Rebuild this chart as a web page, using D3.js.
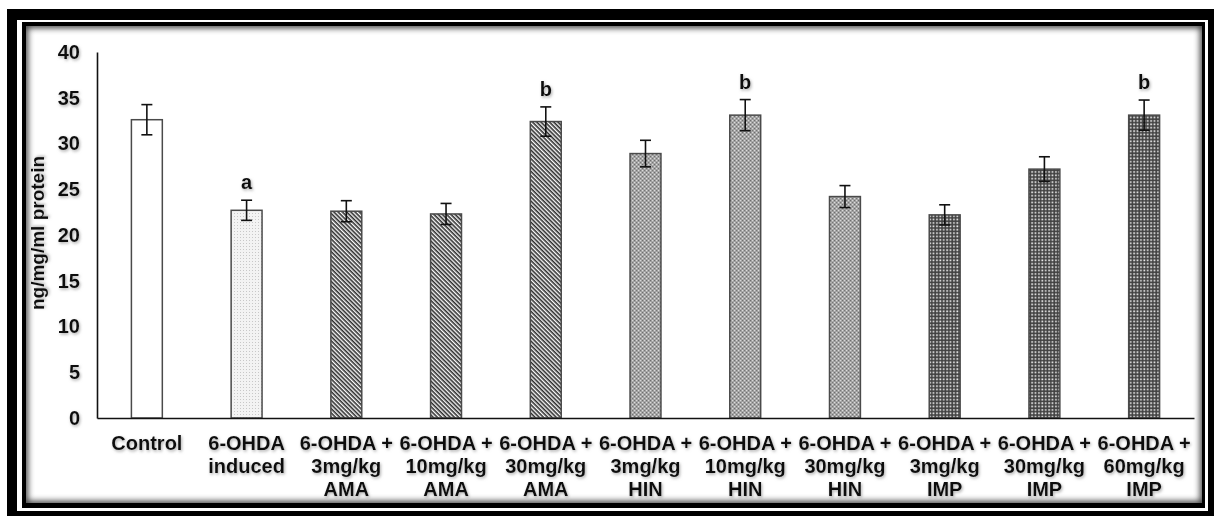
<!DOCTYPE html>
<html>
<head>
<meta charset="utf-8">
<script src="https://cdn.jsdelivr.net/npm/d3@7"></script>
<style>
body { margin: 0; background: #fff; }
text { font-family: "Liberation Sans", Arial, sans-serif; font-weight: bold; fill: #111; }
</style>
</head>
<body>
<div id="chart"></div>
<script>
// chart data
var labels = [
  ["Control"],
  ["6-OHDA", "induced"],
  ["6-OHDA +", "3mg/kg", "AMA"],
  ["6-OHDA +", "10mg/kg", "AMA"],
  ["6-OHDA +", "30mg/kg", "AMA"],
  ["6-OHDA +", "3mg/kg", "HIN"],
  ["6-OHDA +", "10mg/kg", "HIN"],
  ["6-OHDA +", "30mg/kg", "HIN"],
  ["6-OHDA +", "3mg/kg", "IMP"],
  ["6-OHDA +", "30mg/kg", "IMP"],
  ["6-OHDA +", "60mg/kg", "IMP"]
];
var values = [32.6, 22.7, 22.6, 22.3, 32.4, 28.9, 33.1, 24.2, 22.2, 27.2, 33.1];
var errors = [1.65, 1.1, 1.15, 1.15, 1.6, 1.45, 1.7, 1.2, 1.1, 1.35, 1.65];
var letters = ["", "a", "", "", "b", "", "b", "", "", "", "b"];
var fills = ["white", "dots", "stripes", "stripes", "stripes", "hin", "hin", "hin", "imp", "imp", "imp"];
var yTicks = [0, 5, 10, 15, 20, 25, 30, 35, 40];

var width = 1214, height = 516;
var svg = d3.select("#chart").append("svg")
  .attr("width", width)
  .attr("height", height);

var defs = svg.append("defs");

// patterns for the bars
var p = defs.append("pattern").attr("id", "dots")
  .attr("patternUnits", "userSpaceOnUse").attr("width", 3).attr("height", 3);
p.append("rect").attr("width", 3).attr("height", 3).attr("fill", "#f3f3f3");
p.append("rect").attr("width", 1).attr("height", 1).attr("fill", "#c8c8c8");

p = defs.append("pattern").attr("id", "stripes")
  .attr("patternUnits", "userSpaceOnUse").attr("width", 3).attr("height", 3)
  .attr("patternTransform", "rotate(45)");
p.append("rect").attr("width", 3).attr("height", 3).attr("fill", "#fafafa");
p.append("rect").attr("width", 3).attr("height", 1.6).attr("fill", "#2e2e2e");

p = defs.append("pattern").attr("id", "hin")
  .attr("patternUnits", "userSpaceOnUse").attr("width", 4).attr("height", 4);
p.append("rect").attr("width", 4).attr("height", 4).attr("fill", "#a0a0a0");
p.append("rect").attr("x", 0).attr("y", 0).attr("width", 1.2).attr("height", 1.2).attr("fill", "#d8d8d8");
p.append("rect").attr("x", 2).attr("y", 2).attr("width", 1.2).attr("height", 1.2).attr("fill", "#dcdcdc");
p.append("rect").attr("x", 2).attr("y", 0).attr("width", 1).attr("height", 1).attr("fill", "#6e6e6e");
p.append("rect").attr("x", 0).attr("y", 2).attr("width", 1).attr("height", 1).attr("fill", "#767676");

p = defs.append("pattern").attr("id", "imp")
  .attr("patternUnits", "userSpaceOnUse").attr("width", 3.4).attr("height", 3.4);
p.append("rect").attr("width", 3.4).attr("height", 3.4).attr("fill", "#404040");
p.append("rect").attr("x", 1.1).attr("y", 1.1).attr("width", 1.7).attr("height", 1.7).attr("fill", "#ececec");

// soft shadow on text
var f = defs.append("filter").attr("id", "tshadow")
  .attr("x", "-20%").attr("y", "-20%").attr("width", "140%").attr("height", "140%");
f.append("feDropShadow").attr("dx", 1).attr("dy", 1.5)
  .attr("stdDeviation", 1.4).attr("flood-color", "#888").attr("flood-opacity", 0.7);

// inner shadow on the frame
var fb = defs.append("filter").attr("id", "blur");
fb.append("feGaussianBlur").attr("stdDeviation", 3);
defs.append("clipPath").attr("id", "innerClip")
  .append("rect").attr("x", 26).attr("y", 26).attr("width", 1176).attr("height", 477);

// frame
svg.append("rect").attr("x", 7).attr("y", 9).attr("width", 1210).attr("height", 510).attr("fill", "#000");
svg.append("rect").attr("x", 17).attr("y", 20).attr("width", 1191).attr("height", 491).attr("fill", "#fff");
svg.append("rect").attr("x", 22).attr("y", 22).attr("width", 1183).attr("height", 486).attr("fill", "#000");
svg.append("rect").attr("x", 26).attr("y", 26).attr("width", 1176).attr("height", 477).attr("fill", "#fff");
svg.append("g").attr("clip-path", "url(#innerClip)")
  .append("rect").attr("x", 24).attr("y", 24).attr("width", 1180).attr("height", 481)
  .attr("fill", "none").attr("stroke", "#000").attr("stroke-width", 8)
  .attr("opacity", 0.75).attr("filter", "url(#blur)");

// scales
var x = d3.scaleBand()
  .domain(d3.range(values.length))
  .range([97, 1194])
  .paddingInner(0.69)
  .paddingOuter(0.345);

var y = d3.scaleLinear()
  .domain([0, 40])
  .range([418, 52]);

var g = svg.append("g");

// bars
g.selectAll(".bar")
  .data(values)
  .enter().append("rect")
  .attr("class", "bar")
  .attr("x", function(d, i) { return x(i); })
  .attr("y", function(d) { return y(d); })
  .attr("width", x.bandwidth())
  .attr("height", function(d) { return y(0) - y(d); })
  .attr("fill", function(d, i) { return fills[i] == "white" ? "#fff" : "url(#" + fills[i] + ")"; })
  .attr("stroke", "#4a4a4a")
  .attr("stroke-width", 1.5);

// error bars
var eb = g.selectAll(".err")
  .data(values)
  .enter().append("g")
  .attr("class", "err")
  .attr("stroke", "#111")
  .attr("stroke-width", 1.6);
eb.append("line")
  .attr("x1", function(d, i) { return x(i) + x.bandwidth() / 2; })
  .attr("x2", function(d, i) { return x(i) + x.bandwidth() / 2; })
  .attr("y1", function(d, i) { return y(d + errors[i]); })
  .attr("y2", function(d, i) { return y(d - errors[i]); });
eb.append("line")
  .attr("x1", function(d, i) { return x(i) + x.bandwidth() / 2 - 5.5; })
  .attr("x2", function(d, i) { return x(i) + x.bandwidth() / 2 + 5.5; })
  .attr("y1", function(d, i) { return y(d + errors[i]); })
  .attr("y2", function(d, i) { return y(d + errors[i]); });
eb.append("line")
  .attr("x1", function(d, i) { return x(i) + x.bandwidth() / 2 - 5.5; })
  .attr("x2", function(d, i) { return x(i) + x.bandwidth() / 2 + 5.5; })
  .attr("y1", function(d, i) { return y(d - errors[i]); })
  .attr("y2", function(d, i) { return y(d - errors[i]); });

// significance letters
g.selectAll(".sig")
  .data(values)
  .enter().append("text")
  .attr("class", "sig")
  .attr("x", function(d, i) { return x(i) + x.bandwidth() / 2; })
  .attr("y", function(d, i) { return y(d + errors[i]) - 11; })
  .attr("text-anchor", "middle")
  .style("font-size", "20px")
  .attr("filter", "url(#tshadow)")
  .text(function(d, i) { return letters[i]; });

// axes (no tick marks)
var yAxis = svg.append("g")
  .attr("transform", "translate(97,0)")
  .call(d3.axisLeft(y).tickValues(yTicks).tickSize(0).tickPadding(17));
yAxis.select(".domain").attr("stroke", "#111").attr("stroke-width", 1.6);
yAxis.selectAll("text")
  .style("font-size", "20px")
  .attr("fill", "#111")
  .attr("filter", "url(#tshadow)");

var xAxis = svg.append("g")
  .attr("transform", "translate(0," + y(0) + ")")
  .call(d3.axisBottom(x).tickSize(0).tickFormat(""));
xAxis.select(".domain").attr("stroke", "#111").attr("stroke-width", 1.6);

// multi-line category labels
xAxis.selectAll(".tick").each(function(d) {
  var t = d3.select(this).append("text")
    .attr("text-anchor", "middle")
    .attr("fill", "#111")
    .style("font-size", "20px")
    .attr("filter", "url(#tshadow)");
  labels[d].forEach(function(line, k) {
    t.append("tspan").attr("x", 0).attr("y", 31.5 + k * 23).text(line);
  });
});

// y axis title
svg.append("text")
  .attr("transform", "translate(44,233) rotate(-90)")
  .attr("text-anchor", "middle")
  .style("font-size", "19px")
  .attr("filter", "url(#tshadow)")
  .text("ng/mg/ml protein");
</script>
</body>
</html>
